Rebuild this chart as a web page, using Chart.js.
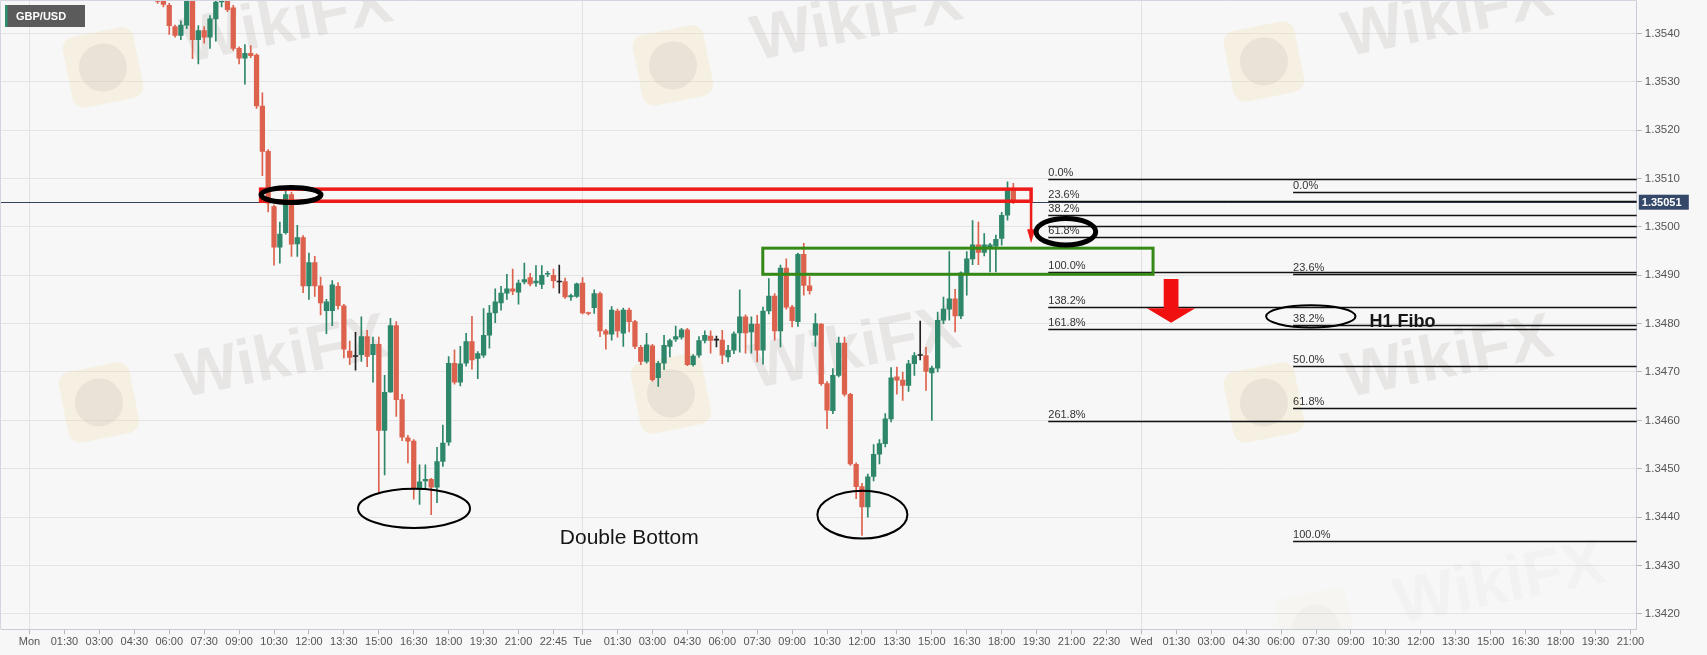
<!DOCTYPE html>
<html>
<head>
<meta charset="utf-8">
<title>GBP/USD 15m</title>
<script src="https://cdn.jsdelivr.net/npm/chart.js@4.4.1/dist/chart.umd.min.js"></script>
<style>
  html, body { margin: 0; padding: 0; background: #f7f7f7; }
  #wrap { position: relative; width: 1707px; height: 655px; }
</style>
</head>
<body>
<div id="wrap"><canvas id="chart"></canvas></div>
<script>
// x unit = one 15 minute slot, Mon 00:00 = 0 (Monday has one slot missing before 22:45)
const firstSlot = 22;

const openP = [
  1.35478, 1.35470, 1.35458, 1.35414, 1.35396, 1.35417, 1.35480, 1.35387, 1.35406, 1.35392,
  1.35430, 1.35465, 1.35480, 1.35453, 1.35369, 1.35349, 1.35359, 1.35355, 1.35250, 1.35156,
  1.35042, 1.34958, 1.34988, 1.35067, 1.34965, 1.34978, 1.34878, 1.34926, 1.34878, 1.34827,
  1.34827, 1.34877, 1.34837, 1.34743, 1.34732, 1.34736, 1.34773, 1.34736, 1.34757, 1.34579,
  1.34659, 1.34796, 1.34643, 1.34564, 1.34557, 1.34458, 1.34475, 1.34478, 1.34462, 1.34515,
  1.34555, 1.34718, 1.34679, 1.34718, 1.34763, 1.34728, 1.34735, 1.34776, 1.34822, 1.34843,
  1.34863, 1.34872, 1.34865, 1.34886, 1.34895, 1.34884, 1.34881, 1.34902, 1.34900, 1.34886,
  1.34887, 1.34855, 1.34856, 1.34884, 1.34822, 1.34833, 1.34862, 1.34785, 1.34778, 1.34826,
  1.34780, 1.34828, 1.34804, 1.34751, 1.34722, 1.34754, 1.34688, 1.34718, 1.34753, 1.34768,
  1.34772, 1.34787, 1.34715, 1.34735, 1.34765, 1.34774, 1.34766, 1.34766, 1.34731, 1.34745,
  1.34781, 1.34814, 1.34783, 1.34799, 1.34745, 1.34826, 1.34857, 1.34785, 1.34915, 1.34834,
  1.34804, 1.34943, 1.34878, 1.34776, 1.34799, 1.34676, 1.34620, 1.34693, 1.34760, 1.34654,
  1.34509, 1.34463, 1.34421, 1.34484, 1.34530, 1.34552, 1.34603, 1.34690, 1.34683, 1.34672,
  1.34717, 1.34734, 1.34734, 1.34698, 1.34708, 1.34807, 1.34830, 1.34851, 1.34816, 1.34905,
  1.34934, 1.34963, 1.34947, 1.34955, 1.34960, 1.34976, 1.35024, 1.35076
];
const highP = [
  1.35490, 1.35476, 1.35462, 1.35417, 1.35426, 1.35490, 1.35490, 1.35416, 1.35414, 1.35437,
  1.35475, 1.35490, 1.35490, 1.35458, 1.35372, 1.35377, 1.35375, 1.35358, 1.35277, 1.35160,
  1.35045, 1.35010, 1.35074, 1.35072, 1.35003, 1.34982, 1.34946, 1.34939, 1.34896, 1.34850,
  1.34889, 1.34885, 1.34840, 1.34764, 1.34782, 1.34814, 1.34786, 1.34772, 1.34772, 1.34693,
  1.34811, 1.34804, 1.34654, 1.34569, 1.34560, 1.34508, 1.34508, 1.34480, 1.34544, 1.34590,
  1.34732, 1.34746, 1.34753, 1.34780, 1.34815, 1.34742, 1.34831, 1.34838, 1.34872, 1.34877,
  1.34902, 1.34913, 1.34890, 1.34925, 1.34904, 1.34920, 1.34920, 1.34908, 1.34913, 1.34921,
  1.34894, 1.34861, 1.34884, 1.34895, 1.34824, 1.34870, 1.34865, 1.34788, 1.34835, 1.34830,
  1.34832, 1.34832, 1.34807, 1.34755, 1.34780, 1.34757, 1.34722, 1.34776, 1.34768, 1.34795,
  1.34790, 1.34790, 1.34736, 1.34773, 1.34785, 1.34785, 1.34774, 1.34786, 1.34755, 1.34783,
  1.34870, 1.34818, 1.34814, 1.34817, 1.34834, 1.34893, 1.34862, 1.34921, 1.34934, 1.34838,
  1.34946, 1.34966, 1.34897, 1.34821, 1.34800, 1.34680, 1.34707, 1.34772, 1.34772, 1.34656,
  1.34512, 1.34470, 1.34489, 1.34550, 1.34560, 1.34614, 1.34709, 1.34710, 1.34700, 1.34724,
  1.34740, 1.34805, 1.34751, 1.34712, 1.34824, 1.34855, 1.34949, 1.34871, 1.34907, 1.34949,
  1.35013, 1.35010, 1.34986, 1.34966, 1.34983, 1.35030, 1.35093, 1.35090
];
const lowP = [
  1.35462, 1.35455, 1.35398, 1.35392, 1.35387, 1.35410, 1.35348, 1.35337, 1.35380, 1.35369,
  1.35384, 1.35455, 1.35445, 1.35365, 1.35337, 1.35295, 1.35350, 1.35245, 1.35106, 1.35031,
  1.34921, 1.34925, 1.34985, 1.34939, 1.34939, 1.34864, 1.34850, 1.34856, 1.34818, 1.34779,
  1.34796, 1.34830, 1.34729, 1.34715, 1.34704, 1.34722, 1.34711, 1.34679, 1.34451, 1.34487,
  1.34658, 1.34608, 1.34558, 1.34512, 1.34437, 1.34426, 1.34458, 1.34405, 1.34430, 1.34505,
  1.34548, 1.34675, 1.34671, 1.34712, 1.34706, 1.34686, 1.34730, 1.34749, 1.34802, 1.34828,
  1.34850, 1.34860, 1.34840, 1.34882, 1.34878, 1.34877, 1.34872, 1.34897, 1.34874, 1.34863,
  1.34852, 1.34848, 1.34854, 1.34820, 1.34818, 1.34821, 1.34773, 1.34747, 1.34766, 1.34772,
  1.34753, 1.34783, 1.34748, 1.34715, 1.34718, 1.34681, 1.34670, 1.34705, 1.34731, 1.34763,
  1.34768, 1.34713, 1.34712, 1.34730, 1.34760, 1.34739, 1.34752, 1.34717, 1.34721, 1.34738,
  1.34741, 1.34739, 1.34739, 1.34721, 1.34716, 1.34820, 1.34766, 1.34752, 1.34830, 1.34793,
  1.34794, 1.34859, 1.34861, 1.34753, 1.34672, 1.34583, 1.34614, 1.34690, 1.34650, 1.34507,
  1.34438, 1.34362, 1.34400, 1.34475, 1.34510, 1.34545, 1.34597, 1.34654, 1.34641, 1.34660,
  1.34693, 1.34725, 1.34662, 1.34600, 1.34700, 1.34800, 1.34807, 1.34783, 1.34810, 1.34859,
  1.34922, 1.34922, 1.34940, 1.34907, 1.34907, 1.34962, 1.35014, 1.35048
];
const closeP = [
  1.35466, 1.35460, 1.35416, 1.35396, 1.35417, 1.35480, 1.35387, 1.35406, 1.35392, 1.35430,
  1.35465, 1.35472, 1.35449, 1.35369, 1.35349, 1.35359, 1.35354, 1.35250, 1.35156, 1.35049,
  1.34958, 1.34985, 1.35067, 1.34964, 1.34978, 1.34878, 1.34926, 1.34878, 1.34843, 1.34845,
  1.34880, 1.34837, 1.34747, 1.34730, 1.34732, 1.34773, 1.34732, 1.34757, 1.34579, 1.34658,
  1.34796, 1.34643, 1.34565, 1.34557, 1.34458, 1.34473, 1.34478, 1.34462, 1.34515, 1.34553,
  1.34718, 1.34679, 1.34717, 1.34763, 1.34725, 1.34738, 1.34776, 1.34822, 1.34845, 1.34863,
  1.34872, 1.34867, 1.34884, 1.34891, 1.34882, 1.34888, 1.34900, 1.34904, 1.34889, 1.34886,
  1.34855, 1.34858, 1.34882, 1.34822, 1.34821, 1.34862, 1.34785, 1.34778, 1.34828, 1.34785,
  1.34828, 1.34804, 1.34753, 1.34722, 1.34756, 1.34684, 1.34718, 1.34755, 1.34765, 1.34773,
  1.34787, 1.34715, 1.34733, 1.34765, 1.34776, 1.34765, 1.34766, 1.34735, 1.34745, 1.34779,
  1.34814, 1.34781, 1.34799, 1.34745, 1.34826, 1.34857, 1.34785, 1.34915, 1.34834, 1.34806,
  1.34943, 1.34879, 1.34868, 1.34800, 1.34676, 1.34621, 1.34693, 1.34760, 1.34654, 1.34510,
  1.34463, 1.34421, 1.34483, 1.34530, 1.34552, 1.34603, 1.34688, 1.34683, 1.34672, 1.34717,
  1.34734, 1.34734, 1.34701, 1.34708, 1.34807, 1.34830, 1.34851, 1.34816, 1.34905, 1.34934,
  1.34963, 1.34947, 1.34963, 1.34963, 1.34974, 1.35024, 1.35076, 1.35052
];

const xTickSlots = [
  0, 6, 12, 18, 24, 30, 36, 42, 48, 54, 60, 66, 72, 78, 84, 90,
  95, 101, 107, 113, 119, 125, 131, 137, 143, 149, 155, 161, 167, 173, 179, 185,
  191, 197, 203, 209, 215, 221, 227, 233, 239, 245, 251, 257, 263, 269, 275
];
const xTickLabels = [
  "Mon", "01:30", "03:00", "04:30", "06:00", "07:30", "09:00", "10:30", "12:00", "13:30", "15:00", "16:30", "18:00", "19:30", "21:00", "22:45",
  "Tue", "01:30", "03:00", "04:30", "06:00", "07:30", "09:00", "10:30", "12:00", "13:30", "15:00", "16:30", "18:00", "19:30", "21:00", "22:30",
  "Wed", "01:30", "03:00", "04:30", "06:00", "07:30", "09:00", "10:30", "12:00", "13:30", "15:00", "16:30", "18:00", "19:30", "21:00"
];
const dayLines = [0, 95, 191];
const yTicks = [1.3420, 1.3430, 1.3440, 1.3450, 1.3460, 1.3470, 1.3480, 1.3490, 1.3500, 1.3510, 1.3520, 1.3530, 1.3540];
const xMin = -4.9, xMax = 276.1;
const yMin = 1.34168, yMax = 1.35467;

const lastPrice = 1.35051;

// fibonacci sets (price at 0% and 100%)
const fibRatios = [0, 0.236, 0.382, 0.5, 0.618, 1, 1.382, 1.618, 2.618];
const fibLeftLabels = ["0.0%", "23.6%", "38.2%", "", "61.8%", "100.0%", "138.2%", "161.8%", "261.8%"];
const fibLeft = { start: 175.0, p0: 1.35098, p100: 1.34907 };
const fibRightRatios = [0, 0.236, 0.382, 0.5, 0.618, 1];
const fibRightLabels = ["0.0%", "23.6%", "38.2%", "50.0%", "61.8%", "100.0%"];
const fibRight = { start: 217.06, p0: 1.35073, p100: 1.34350 };

// drawings, in slot / price units
const redBox = { x0: 39.7, x1: 172.05, top: 1.35078, bottom: 1.35053 };
const redArrowTip = 1.34966;
const greenBox = { x0: 125.96, x1: 193.0, top: 1.34956, bottom: 1.34902 };
const blockArrow = { x: 196.1, shaftHalf: 1.27, headHalf: 4.15, top: 1.34892, neck: 1.34832, tip: 1.34802 };
const ellipses = [
  { cx: 44.92, cy: 1.35066, rx: 5.15, ry: 0.000155, lw: 5 },
  { cx: 178.03, cy: 1.34990, rx: 5.12, ry: 0.000275, lw: 5 },
  { cx: 66.05, cy: 1.34418, rx: 9.62, ry: 0.000407, lw: 2 },
  { cx: 143.07, cy: 1.34405, rx: 7.73, ry: 0.000492, lw: 2 },
  { cx: 220.1, cy: 1.34815, rx: 7.68, ry: 0.000232, lw: 2 }
];
const notes = [
  { text: "Double Bottom", x: 91.1, y: 1.34344, font: "21px " },
  { text: "H1 Fibo", x: 230.2, y: 1.34793, font: "bold 18px " }
];

const FONT = '"Liberation Sans", Arial, Helvetica, sans-serif';
const UP = "#2e876a";
const DOWN = "#dd624e";
const DOJI = "#222222";

Chart.defaults.font.family = FONT;

function candleColor(i) {
  if (closeP[i] > openP[i]) return UP;
  if (closeP[i] < openP[i]) return DOWN;
  return DOJI;
}

const bodies = openP.map((o, i) => ({ x: firstSlot + i, y: [o, closeP[i]] }));
const wicks = lowP.map((l, i) => ({ x: firstSlot + i, y: [l, highP[i]] }));

function drawWatermark(ctx, x, y, alpha) {
  ctx.save();
  ctx.translate(x, y);
  ctx.rotate(-0.2);
  ctx.globalAlpha = alpha;
  ctx.fillStyle = "#f3dc9a";
  ctx.beginPath();
  ctx.roundRect(-225, -30, 72, 72, 12);
  ctx.fill();
  ctx.fillStyle = "#b9b0b0";
  ctx.beginPath();
  ctx.arc(-189, 6, 24, 0, Math.PI * 2);
  ctx.fill();
  ctx.fillStyle = "#b5aaaa";
  ctx.font = "bold 64px " + FONT;
  ctx.textAlign = "center";
  ctx.textBaseline = "middle";
  ctx.fillText("WikiFX", 0, 0);
  ctx.restore();
}

const overlayPlugin = {
  id: "overlays",
  beforeDraw(chart) {
    const ctx = chart.ctx;
    ctx.save();
    ctx.fillStyle = "#f7f7f7";
    ctx.fillRect(0, 0, chart.width, chart.height);
    ctx.restore();
  },
  beforeDatasetsDraw(chart) {
    const ctx = chart.ctx;
    const a = chart.chartArea;
    const Y = v => chart.scales.y.getPixelForValue(v);
    ctx.save();
    ctx.beginPath();
    ctx.rect(a.left, a.top, a.right - a.left, a.bottom - a.top);
    ctx.clip();
    drawWatermark(ctx, 287, 24, 0.22);
    drawWatermark(ctx, 857, 22, 0.22);
    drawWatermark(ctx, 1448, 18, 0.22);
    drawWatermark(ctx, 283, 359, 0.22);
    drawWatermark(ctx, 855, 350, 0.22);
    drawWatermark(ctx, 1448, 359, 0.22);
    drawWatermark(ctx, 1500, 585, 0.06);
    // last price line
    ctx.strokeStyle = "#33415e";
    ctx.lineWidth = 1;
    ctx.beginPath();
    ctx.moveTo(a.left, Math.round(Y(lastPrice)) + 0.5);
    ctx.lineTo(a.right, Math.round(Y(lastPrice)) + 0.5);
    ctx.stroke();
    ctx.restore();
  },
  afterDatasetsDraw(chart) {
    const ctx = chart.ctx;
    const a = chart.chartArea;
    const X = v => chart.scales.x.getPixelForValue(v);
    const Y = v => chart.scales.y.getPixelForValue(v);
    ctx.save();
    ctx.beginPath();
    ctx.rect(a.left, a.top, a.right - a.left, a.bottom - a.top);
    ctx.clip();

    // fibonacci levels
    ctx.font = "11px " + FONT;
    ctx.textBaseline = "bottom";
    ctx.textAlign = "left";
    const drawFib = (fib, ratios, labels) => {
      ratios.forEach((r, i) => {
        const py = Math.round(Y(fib.p0 - r * (fib.p0 - fib.p100))) + 0.5;
        const px = X(fib.start);
        ctx.strokeStyle = "#111";
        ctx.lineWidth = 1.3;
        ctx.beginPath();
        ctx.moveTo(px, py);
        ctx.lineTo(a.right, py);
        ctx.stroke();
        if (labels[i]) {
          ctx.fillStyle = "#333";
          ctx.fillText(labels[i], px, py - 1);
        }
      });
    };
    drawFib(fibLeft, fibRatios, fibLeftLabels);
    drawFib(fibRight, fibRightRatios, fibRightLabels);

    // red box and small arrow
    ctx.strokeStyle = "#ee1b1b";
    ctx.lineWidth = 3.5;
    ctx.strokeRect(X(redBox.x0), Y(redBox.top), X(redBox.x1) - X(redBox.x0), Y(redBox.bottom) - Y(redBox.top));
    const ax = X(redBox.x1);
    const tipY = Y(redArrowTip);
    ctx.lineWidth = 2.5;
    ctx.beginPath();
    ctx.moveTo(ax, Y(redBox.bottom));
    ctx.lineTo(ax, tipY - 12);
    ctx.stroke();
    ctx.fillStyle = "#ee1b1b";
    ctx.beginPath();
    ctx.moveTo(ax - 4, tipY - 14);
    ctx.lineTo(ax + 4, tipY - 14);
    ctx.lineTo(ax, tipY);
    ctx.closePath();
    ctx.fill();

    // green box
    ctx.strokeStyle = "#358a17";
    ctx.lineWidth = 3;
    ctx.strokeRect(X(greenBox.x0), Y(greenBox.top), X(greenBox.x1) - X(greenBox.x0), Y(greenBox.bottom) - Y(greenBox.top));

    // big red down arrow
    const b = blockArrow;
    ctx.fillStyle = "#f01010";
    ctx.beginPath();
    ctx.moveTo(X(b.x - b.shaftHalf), Y(b.top));
    ctx.lineTo(X(b.x + b.shaftHalf), Y(b.top));
    ctx.lineTo(X(b.x + b.shaftHalf), Y(b.neck));
    ctx.lineTo(X(b.x + b.headHalf), Y(b.neck));
    ctx.lineTo(X(b.x), Y(b.tip));
    ctx.lineTo(X(b.x - b.headHalf), Y(b.neck));
    ctx.lineTo(X(b.x - b.shaftHalf), Y(b.neck));
    ctx.closePath();
    ctx.fill();

    // ellipses
    ctx.strokeStyle = "#000";
    ellipses.forEach(e => {
      const cx = X(e.cx), cy = Y(e.cy);
      ctx.lineWidth = e.lw;
      ctx.beginPath();
      ctx.ellipse(cx, cy, Math.abs(X(e.cx + e.rx) - cx), Math.abs(Y(e.cy + e.ry) - cy), 0, 0, Math.PI * 2);
      ctx.stroke();
    });

    // text notes
    ctx.fillStyle = "#161616";
    ctx.textBaseline = "alphabetic";
    notes.forEach(n => {
      ctx.font = n.font + FONT;
      ctx.fillText(n.text, X(n.x), Y(n.y));
    });
    ctx.restore();
  },
  afterDraw(chart) {
    const ctx = chart.ctx;
    const a = chart.chartArea;
    const Y = v => chart.scales.y.getPixelForValue(v);
    ctx.save();
    // frame top / left
    ctx.strokeStyle = "#d3d6df";
    ctx.lineWidth = 1;
    ctx.beginPath();
    ctx.moveTo(a.left - 0.5, a.bottom);
    ctx.lineTo(a.left - 0.5, a.top - 0.5);
    ctx.lineTo(a.right, a.top - 0.5);
    ctx.stroke();

    // price tag on the axis
    const py = Y(lastPrice);
    ctx.fillStyle = "#34486a";
    ctx.fillRect(a.right + 2, py - 7.5, 50, 15);
    ctx.fillStyle = "#fff";
    ctx.font = "bold 11px " + FONT;
    ctx.textAlign = "left";
    ctx.textBaseline = "middle";
    ctx.fillText(lastPrice.toFixed(5), a.right + 5, py + 0.5);

    // symbol label
    ctx.fillStyle = "#5b5b5b";
    ctx.fillRect(5, 5, 80, 22);
    ctx.fillStyle = "#2f8f6f";
    ctx.fillRect(5, 5, 2.5, 22);
    ctx.fillStyle = "#fff";
    ctx.font = "bold 11px " + FONT;
    ctx.fillText("GBP/USD", 16, 16.5);
    ctx.restore();
  }
};

function noEdgePadding(s) {
  s.paddingTop = 0;
  s.paddingBottom = 0;
  s.paddingLeft = 0;
  s.paddingRight = 0;
}

new Chart(document.getElementById("chart"), {
  type: "bar",
  data: {
    datasets: [
      {
        label: "body",
        data: bodies,
        backgroundColor: c => candleColor(c.dataIndex),
        barThickness: 4.6,
        minBarLength: 1,
        grouped: false,
        order: 1,
        clip: 0
      },
      {
        label: "wick",
        data: wicks,
        backgroundColor: c => candleColor(c.dataIndex),
        barThickness: 1,
        grouped: false,
        order: 2,
        clip: 0
      }
    ]
  },
  options: {
    responsive: true,
    maintainAspectRatio: false,
    animation: false,
    layout: { padding: { left: 1, top: 1, right: 0, bottom: 0 } },
    plugins: { legend: { display: false }, tooltip: { enabled: false } },
    scales: {
      x: {
        type: "linear",
        min: xMin,
        max: xMax,
        offset: false,
        afterBuildTicks: s => { s.ticks = xTickSlots.map(v => ({ value: v })); },
        afterFit: s => { s.height = 25.7; noEdgePadding(s); },
        ticks: {
          callback: (v, i) => xTickLabels[i],
          autoSkip: false,
          maxRotation: 0,
          color: "#555",
          font: { size: 11 },
          padding: 1
        },
        grid: {
          offset: false,
          color: c => (c.tick && dayLines.includes(c.tick.value)) ? "#e2e2e2" : "rgba(0,0,0,0)",
          tickColor: "#b5b8c2",
          tickLength: 5
        },
        border: { color: "#c9ccd6" }
      },
      y: {
        type: "linear",
        position: "right",
        min: yMin,
        max: yMax,
        afterBuildTicks: s => { s.ticks = yTicks.map(v => ({ value: v })); },
        afterFit: s => { s.width = 70.2; noEdgePadding(s); },
        ticks: {
          callback: v => v.toFixed(4),
          color: "#555",
          font: { size: 11.5 },
          padding: 3
        },
        grid: { color: "#e4e4e4", tickColor: "#b5b8c2", tickLength: 5 },
        border: { color: "#c9ccd6" }
      }
    }
  },
  plugins: [overlayPlugin]
});
</script>
</body>
</html>
